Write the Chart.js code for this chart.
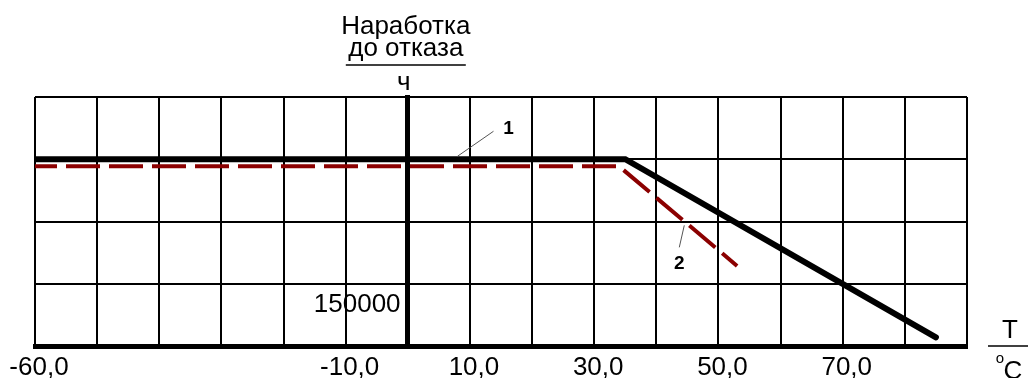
<!DOCTYPE html>
<html lang="ru">
<head>
<meta charset="utf-8">
<title>Наработка до отказа</title>
<script src="https://cdn.jsdelivr.net/npm/chart.js@4/dist/chart.umd.min.js"></script>
<style>
  html, body { margin: 0; padding: 0; background: #fff; }
  #wrap { width: 1028px; height: 378px; position: relative; }
  canvas { display: block; }
</style>
</head>
<body>
<div id="wrap"><canvas id="chart" width="1028" height="378"></canvas></div>
<script>
// Temperature (°C) and time to failure (hours)
const xTickLabels = [-60, -10, 10, 30, 50, 70];
const yTickLabels = [150000];

const curve1Temp  = [-60, 35, 85];
const curve1Hours = [450000, 450000, 21000];

const curve2Temp  = [-60, 34, 53];
const curve2Hours = [433000, 433000, 193000];

const curveNames  = ['1', '2'];
const yTitleLines = ['Наработка', 'до отказа'];
const yUnit = 'ч';
const xTitle = 'T';
const xUnitDegree = 'o';
const xUnitLetter = 'C';

// where the curve numbers point to (on each curve)
const curve1Callout = { x: 8, y: 450000 };
const curve2Callout = { x: 44.5, y: 300400 };

const FONT = '"Liberation Sans", Arial, Helvetica, sans-serif';

const toPoints = (xs, ys) => xs.map((t, i) => ({ x: t, y: ys[i] }));

const captions = {
  id: 'captions',
  afterDraw(chart) {
    const { ctx, scales: { x, y } } = chart;
    const x0 = x.getPixelForValue(0);
    ctx.save();
    ctx.fillStyle = '#000';
    ctx.strokeStyle = '#000';
    ctx.textBaseline = 'alphabetic';
    ctx.textAlign = 'center';

    // vertical axis caption
    ctx.font = `26px ${FONT}`;
    ctx.fillText(yTitleLines[0], x0 - 2, 34);
    ctx.fillText(yTitleLines[1], x0 - 2, 56);
    ctx.lineWidth = 1.5;
    ctx.beginPath();
    ctx.moveTo(x0 - 62, 65);
    ctx.lineTo(x0 + 58, 65);
    ctx.stroke();
    ctx.fillText(yUnit, x0 - 4, 90);

    // horizontal axis caption
    const xr = chart.chartArea.right;
    ctx.fillText(xTitle, xr + 43, 338);
    ctx.beginPath();
    ctx.moveTo(xr + 21, 346);
    ctx.lineTo(xr + 61, 346);
    ctx.stroke();
    ctx.font = `15px ${FONT}`;
    ctx.fillText(xUnitDegree, xr + 33, 363);
    ctx.font = `26px ${FONT}`;
    ctx.fillText(xUnitLetter, xr + 46, 379);

    // curve numbers with leader lines
    ctx.font = `bold 19px ${FONT}`;
    ctx.strokeStyle = '#555';
    ctx.lineWidth = 1;

    const a1x = x.getPixelForValue(curve1Callout.x);
    const a1y = y.getPixelForValue(curve1Callout.y) - 3;
    ctx.beginPath();
    ctx.moveTo(a1x, a1y);
    ctx.lineTo(a1x + 36, a1y - 25);
    ctx.stroke();
    ctx.fillText(curveNames[0], a1x + 51, a1y - 22);

    const a2x = x.getPixelForValue(curve2Callout.x);
    const a2y = y.getPixelForValue(curve2Callout.y) + 4;
    ctx.beginPath();
    ctx.moveTo(a2x, a2y);
    ctx.lineTo(a2x - 5, a2y + 22);
    ctx.stroke();
    ctx.fillText(curveNames[1], a2x - 5, a2y + 44);

    ctx.restore();
  }
};

new Chart(document.getElementById('chart').getContext('2d'), {
  type: 'line',
  data: {
    datasets: [
      {
        label: curveNames[0],
        data: toPoints(curve1Temp, curve1Hours),
        borderColor: '#000',
        borderWidth: 6,
        borderCapStyle: 'round',
        borderJoinStyle: 'miter',
        pointRadius: 0,
        tension: 0,
        fill: false
      },
      {
        label: curveNames[1],
        data: toPoints(curve2Temp, curve2Hours),
        borderColor: '#8b0000',
        borderWidth: 4,
        borderDash: [34, 9],
        borderDashOffset: 12,
        borderJoinStyle: 'miter',
        pointRadius: 0,
        tension: 0,
        fill: false
      }
    ]
  },
  options: {
    responsive: false,
    animation: false,
    devicePixelRatio: 1,
    layout: { padding: { left: 35, right: 61, top: 97, bottom: 0 } },
    plugins: { legend: { display: false }, tooltip: { enabled: false } },
    scales: {
      x: {
        type: 'linear',
        position: 'bottom',
        min: -60,
        max: 90,
        grid: { color: '#000', lineWidth: 2, drawTicks: false },
        border: { color: '#000', width: 5 },
        ticks: {
          stepSize: 10,
          autoSkip: false,
          maxRotation: 0,
          color: '#000',
          padding: 9,
          labelOffset: 4,
          font: { family: FONT, size: 26, lineHeight: 1 },
          callback: v => xTickLabels.includes(v) ? v.toFixed(1).replace('.', ',') : ''
        },
        afterFit: s => {
          s.height = 32;
          // the outer labels may run into the page margin
          s.paddingLeft = 0;
          s.paddingRight = 0;
        }
      },
      y: {
        type: 'linear',
        position: { x: 0 },
        min: 0,
        max: 600000,
        grid: { color: '#000', lineWidth: 2, drawTicks: false },
        border: { color: '#000', width: 5 },
        ticks: {
          stepSize: 150000,
          color: '#000',
          labelOffset: 21,
          font: { family: FONT, size: 26, lineHeight: 1 },
          // trailing space keeps the label clear of the thick axis line
          callback: v => yTickLabels.includes(v) ? `${v} ` : ''
        }
      }
    }
  },
  plugins: [captions]
});
</script>
</body>
</html>
